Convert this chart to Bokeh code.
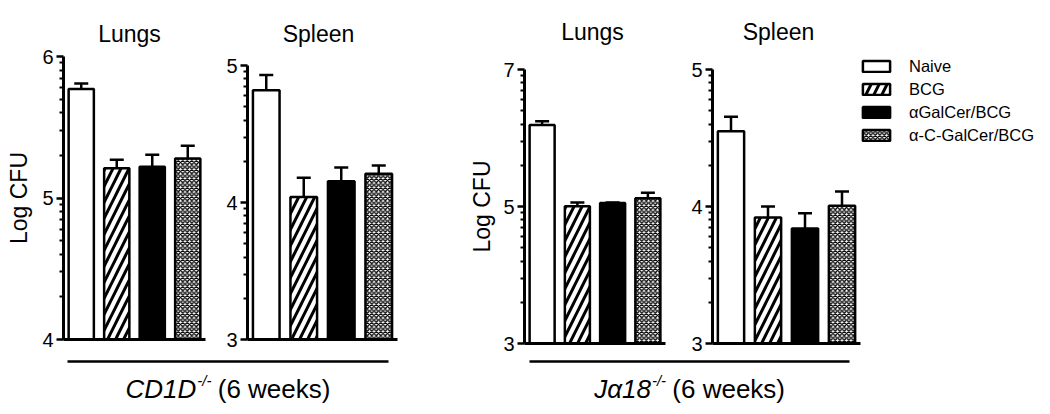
import math
from bokeh.plotting import figure
from bokeh.models import (ColumnDataSource, Range1d, FixedTicker, Whisker, LinearAxis,
                          TeeHead, Legend, LegendItem)
from bokeh.core.properties import value
from bokeh.embed import file_html
from bokeh.resources import INLINE

# ---------------- data ----------------
groups = ["Naive", "BCG", "αGalCer/BCG", "α-C-GalCer/BCG"]

cd1d_lungs_mean = [5.77, 5.21, 5.22, 5.28]
cd1d_lungs_err = [0.04, 0.06, 0.085, 0.09]

cd1d_spleen_mean = [4.82, 4.04, 4.155, 4.21]
cd1d_spleen_err = [0.11, 0.14, 0.10, 0.06]

ja18_lungs_mean = [6.19, 5.005, 5.05, 5.12]
ja18_lungs_err = [0.055, 0.055, 0.01, 0.08]

ja18_spleen_mean = [4.55, 3.92, 3.84, 4.005]
ja18_spleen_err = [0.105, 0.08, 0.11, 0.105]

panel_titles = ["Lungs", "Spleen", "Lungs", "Spleen"]
y_ticks = [[4, 5, 6], [3, 4, 5], [3, 5, 7], [3, 4, 5]]
y_label = "Log CFU"
group_labels = [("CD1D", "-/-", "(6 weeks)"), ("Jα18", "-/-", "(6 weeks)")]

# ---------------- layout / styles ----------------
W, H = 1050, 414          # canvas size (page has no margin with bokeh's template)
M = 0
FONT = "Liberation Sans"
# page px: y-axis x, panel right x, top-tick y, bottom-tick y
panel_box = [(63, 205, 56, 339), (247, 397, 65, 339), (524, 665, 69, 343), (712, 860, 69, 343)]
title_pos = [(129, 33), (318, 33), (592, 31), (778, 31)]
ylabel_standoff = [7, None, 5, None]
group_line = [(67, 388), (529, 849)]
group_line_y, group_text_y = 361, 388

fills = ["white", "white", "black", "white"]
hatches = [" ", "/", " ", "x"]
hatch_scales = [16, 16, 16, 4.5]
hatch_weights = [3, 3, 3, 1.3]

means = [cd1d_lungs_mean, cd1d_spleen_mean, ja18_lungs_mean, ja18_spleen_mean]
errs = [cd1d_lungs_err, cd1d_spleen_err, ja18_lungs_err, ja18_spleen_err]


def log_minors(majors):
    step = majors[1] - majors[0]
    return [m + step * math.log10(k) for m in majors[:-1] for k in range(2, 10)]


p = figure(width=W, height=H, x_range=Range1d(0, W), y_range=Range1d(H, 0),
           min_border=0, output_backend="svg", toolbar_location=None,
           x_axis_location=None, y_axis_location=None)
p.outline_line_color = None
p.grid.visible = False

bar_renderers = []
for k in range(4):
    L, R, T, B = [v - M for v in panel_box[k]]
    majors = y_ticks[k]
    vmin, vmax = majors[0], majors[-1]
    n = len(groups)
    kx = (R - L) / n
    xs = -L / kx
    x_rng = Range1d(xs, xs + W / kx)
    ky = (B - T) / (vmax - vmin)
    ye = vmax + T / ky
    y_rng = Range1d(ye - H / ky, ye)
    xn, yn = f"px{k}", f"py{k}"
    p.extra_x_ranges[xn] = x_rng
    p.extra_y_ranges[yn] = y_rng

    src = ColumnDataSource(dict(
        x=[i + 0.5 for i in range(n)], top=means[k], bottom=[vmin] * n,
        upper=[m + e for m, e in zip(means[k], errs[k])],
        fill=fills, hatch=hatches, hs=hatch_scales, hw=hatch_weights))
    r = p.vbar(x="x", top="top", bottom="bottom", width=0.71, source=src,
               x_range_name=xn, y_range_name=yn,
               fill_color="fill", line_color="black", line_width=2.5,
               hatch_pattern="hatch", hatch_color="black", hatch_scale="hs", hatch_weight="hw")
    bar_renderers.append(r)

    p.add_layout(Whisker(source=src, base="x", upper="upper", lower="top",
                         x_range_name=xn, y_range_name=yn,
                         line_color="black", line_width=2.5,
                         upper_head=TeeHead(size=14, line_width=2.5, line_color="black"),
                         lower_head=None))

    ya = LinearAxis(x_range_name=xn, y_range_name=yn, fixed_location=0, bounds=(vmin, vmax),
                    ticker=FixedTicker(ticks=majors, minor_ticks=log_minors(majors)))
    ya.axis_line_width = 3
    ya.major_tick_line_width = 2.5
    ya.minor_tick_line_width = 2
    ya.major_tick_out = 7
    ya.major_tick_in = 0
    ya.minor_tick_out = 4
    ya.minor_tick_in = 0
    ya.major_label_standoff = 3
    ya.major_label_text_font = FONT
    ya.major_label_text_font_size = "20px"
    ya.major_label_text_color = "black"
    if ylabel_standoff[k] is not None:
        ya.axis_label = y_label
        ya.axis_label_text_font = FONT
        ya.axis_label_text_font_size = "23px"
        ya.axis_label_text_font_style = "normal"
        ya.axis_label_text_color = "black"
        ya.axis_label_standoff = ylabel_standoff[k]
    p.add_layout(ya, "left")

    xa = LinearAxis(x_range_name=xn, y_range_name=yn, fixed_location=vmin, bounds=(0, n),
                    ticker=FixedTicker(ticks=[]))
    xa.axis_line_width = 3
    xa.major_tick_line_color = None
    xa.minor_tick_line_color = None
    xa.major_label_text_font_size = "0px"
    p.add_layout(xa, "below")

    tx, ty = title_pos[k]
    p.text(x=[tx - M], y=[ty - M], text=[panel_titles[k]], text_font=value(FONT),
           text_font_size="23px", text_align="center", text_baseline="middle", text_color="black")

# legend (uses the last panel's bars, one row per group)
leg_glyph_left, leg_label_left, leg_first_center = 859, 909, 66
GW, GH, LH, SP = 34, 14, 19, 4
leg_left = leg_glyph_left - M
leg_top = leg_first_center - LH / 2 - M
leg_h = 4 * LH + 3 * SP
legend = Legend(items=[LegendItem(label=g, renderers=[bar_renderers[3]], index=i)
                       for i, g in enumerate(groups)],
                location=(leg_left, H - leg_top - leg_h), padding=0, margin=0, spacing=SP,
                glyph_width=GW, glyph_height=GH, label_height=LH,
                label_standoff=int(round(leg_label_left - M - leg_left - GW)),
                label_text_font=FONT, label_text_font_size="16.5px", label_text_color="black",
                border_line_color=None, background_fill_alpha=0)
p.add_layout(legend)

# group labels
CW = {"C": .722, "D": .722, "1": .556, "8": .556, "J": .5, "α": .578, "-": .333, "/": .278,
      " ": .278, "(": .333, ")": .333, "6": .556, "w": .722, "e": .556, "k": .5, "s": .5}


def tw(s, size):
    return sum(CW.get(c, .556) for c in s) * size


MAIN, SUP = 26, 15
for (x0, x1), (name, sup, rest) in zip(group_line, group_labels):
    p.segment(x0=[x0 - M], y0=[group_line_y - M], x1=[x1 - M], y1=[group_line_y - M],
              line_color="black", line_width=2.5)
    gap = tw(" ", MAIN)
    total = tw(name, MAIN) + tw(sup, SUP) + gap + tw(rest, MAIN)
    xs = (x0 + x1) / 2 - total / 2 - M
    xn_ = xs + tw(name, MAIN)
    yc = group_text_y - M
    p.text(x=[xn_], y=[yc], text=[name], text_font=value(FONT), text_font_size=f"{MAIN}px",
           text_font_style="italic", text_align="right", text_baseline="middle", text_color="black")
    p.text(x=[xn_ + 1], y=[yc - 8], text=[sup], text_font=value(FONT), text_font_size=f"{SUP}px",
           text_font_style="italic", text_align="left", text_baseline="middle", text_color="black")
    p.text(x=[xn_ + tw(sup, SUP) + gap], y=[yc], text=[rest], text_font=value(FONT),
           text_font_size=f"{MAIN}px", text_align="left", text_baseline="middle", text_color="black")

open("out.html", "w").write(file_html(p, INLINE))
